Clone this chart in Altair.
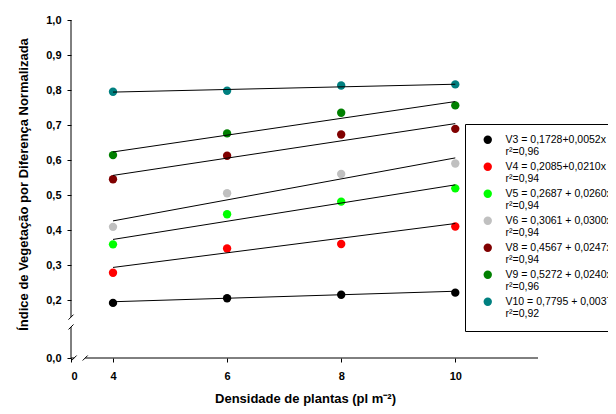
import altair as alt
import pandas as pd

# ---- data ----
density = [4, 6, 8, 10]
series = ["V3", "V4", "V5", "V6", "V8", "V9", "V10"]
colors = ["#000000", "#ff0000", "#00ff00", "#c0c0c0", "#800000", "#008000", "#008080"]
v3 = [0.190, 0.205, 0.215, 0.221]
v4 = [0.278, 0.347, 0.360, 0.410]
v5 = [0.359, 0.445, 0.481, 0.519]
v6 = [0.409, 0.505, 0.560, 0.590]
v8 = [0.545, 0.612, 0.673, 0.689]
v9 = [0.614, 0.676, 0.735, 0.756]
v10 = [0.795, 0.798, 0.813, 0.816]
equations = [
    "V3 = 0,1728+0,0052x",
    "V4 = 0,2085+0,0210x",
    "V5 = 0,2687 + 0,0260x",
    "V6 = 0,3061 + 0,0300x",
    "V8 = 0,4567 + 0,0247x",
    "V9 = 0,5272 + 0,0240x",
    "V10 = 0,7795 + 0,0037x",
]
r2 = ["r²=0,96", "r²=0,94", "r²=0,94", "r²=0,94", "r²=0,94", "r²=0,96", "r²=0,92"]
fit_x = [4, 10]
fit_start = [0.194, 0.293, 0.373, 0.426, 0.556, 0.623, 0.794]
fit_end = [0.225, 0.4185, 0.529, 0.606, 0.704, 0.767, 0.8165]
x_ticks = [0, 4, 6, 8, 10]
y_ticks = [0.0, 0.2, 0.3, 0.4, 0.5, 0.6, 0.7, 0.8, 0.9, 1.0]
# broken axes: piecewise scales
x_domain = [0, 4, 11.45]
y_domain = [0, 0.2, 1.0]
y_break = [0.107, 0.141]
x_break = [0.3, 1.35]

W, H = 467, 338
FONT = "Liberation Sans, Arial, Helvetica, sans-serif"

labels = [e + "|" + r for e, r in zip(equations, r2)]
values = [v3, v4, v5, v6, v8, v9, v10]

pts = pd.DataFrame(
    [{"x": x, "y": y, "s": lab} for lab, vals in zip(labels, values) for x, y in zip(density, vals)]
)
fits = pd.DataFrame(
    [{"x": fit_x[0], "x2": fit_x[1], "y": a, "y2": b} for a, b in zip(fit_start, fit_end)]
)
axis_lines = pd.DataFrame([
    {"x": 0, "x2": 0, "y": y_domain[0], "y2": y_break[0]},
    {"x": 0, "x2": 0, "y": y_break[1], "y2": y_domain[-1]},
    {"x": x_domain[0], "x2": x_break[0], "y": 0, "y2": 0},
    {"x": x_break[1], "x2": x_domain[-1], "y": 0, "y2": 0},
])
breaks = pd.DataFrame([
    {"x": 0, "y": y_break[0]},
    {"x": 0, "y": y_break[1]},
    {"x": x_break[0], "y": 0},
    {"x": x_break[1], "y": 0},
])

xs = alt.Scale(domain=x_domain, range=[0, 42, W], nice=False, zero=False)
ys = alt.Scale(domain=y_domain, range=[H, 280, 0], nice=False, zero=False)

x_axis = alt.Axis(
    values=x_ticks, format="d", title="Densidade de plantas (pl m⁻²)",
    titleX=234, titleY=44, titleBaseline="alphabetic", labelPadding=8)
y_axis = alt.Axis(
    values=y_ticks, labelExpr="replace(format(datum.value, '.1f'), '.', ',')",
    title="Índice de Vegetação por Diferença Normalizada",
    titleX=-44, titleY=164, titleBaseline="alphabetic", titleAngle=-90,
    titleAlign="center", labelPadding=6)

points = alt.Chart(pts).mark_point(filled=True, size=70, opacity=1, strokeWidth=0).encode(
    x=alt.X("x:Q", scale=xs, axis=x_axis),
    y=alt.Y("y:Q", scale=ys, axis=y_axis),
    color=alt.Color("s:N", scale=alt.Scale(domain=labels, range=colors), legend=alt.Legend(
        title=None, orient="none", legendX=394, legendY=104,
        labelExpr="split(datum.label, '|')", labelFont=FONT, labelFontSize=10.5,
        labelColor="#000000", labelLimit=400, labelBaseline="middle",
        symbolType="circle", symbolSize=70, symbolStrokeWidth=0, symbolOpacity=1,
        strokeColor="#000000", fillColor="#ffffff", padding=10.5, rowPadding=3,
        symbolOffset=7, labelOffset=12.5)),
)

fit_lines = alt.Chart(fits).mark_rule(color="#000000", strokeWidth=1).encode(
    x=alt.X("x:Q", scale=xs, axis=x_axis), x2="x2:Q",
    y=alt.Y("y:Q", scale=ys, axis=y_axis), y2="y2:Q",
)

ax_lines = alt.Chart(axis_lines).mark_rule(color="#000000", strokeWidth=1).encode(
    x=alt.X("x:Q", scale=xs, axis=x_axis), x2="x2:Q",
    y=alt.Y("y:Q", scale=ys, axis=y_axis), y2="y2:Q",
)

break_marks = alt.Chart(breaks).mark_point(
    shape="M-1,1L1,-1", size=25, filled=False, color="#000000", strokeWidth=1, opacity=1
).encode(
    x=alt.X("x:Q", scale=xs, axis=x_axis),
    y=alt.Y("y:Q", scale=ys, axis=y_axis),
)

chart = alt.layer(points, ax_lines, break_marks, fit_lines).properties(
    width=W, height=H,
    padding={"left": 63, "top": 12, "right": 70, "bottom": 48},
    autosize=alt.AutoSizeParams(type="none"),
    background="#ffffff",
).configure_view(strokeWidth=0).configure_axis(
    domain=False, grid=False, tickSize=4, tickColor="#000000",
    labelFont=FONT, labelFontSize=11, labelFontWeight="bold", labelColor="#000000",
    titleFont=FONT, titleFontSize=13, titleFontWeight="bold", titleColor="#000000",
)

chart.save("out.html", embed_options={"renderer": "svg", "actions": False})
